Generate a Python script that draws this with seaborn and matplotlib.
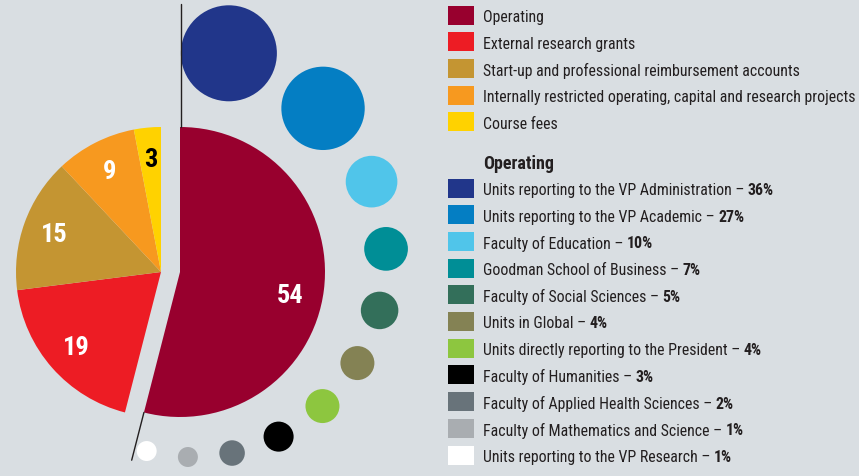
import numpy as np
import pandas as pd
import seaborn as sns
import matplotlib.pyplot as plt
from matplotlib.patches import Rectangle

# budget sources (outer pie)
sources = ['Operating', 'External research grants',
           'Start-up and professional reimbursement accounts',
           'Internally restricted operating, capital and research projects',
           'Course fees']
source_pct = [54, 19, 15, 9, 3]
source_colors = ['#98002e', '#ed1c24', '#c49532', '#f7991f', '#ffd200']

# breakdown of the operating slice (bubbles)
units = ['Units reporting to the VP Administration',
         'Units reporting to the VP Academic',
         'Faculty of Education',
         'Goodman School of Business',
         'Faculty of Social Sciences',
         'Units in Global',
         'Units directly reporting to the President',
         'Faculty of Humanities',
         'Faculty of Applied Health Sciences',
         'Faculty of Mathematics and Science',
         'Units reporting to the VP Research']
unit_pct = [36, 27, 10, 7, 5, 4, 4, 3, 2, 1, 1]
unit_colors = ['#21368a', '#047ec3', '#50c5ea', '#008e96', '#336f5a', '#848254',
               '#8dc63f', '#000000', '#68737a', '#a9adb1', '#ffffff']

bg = '#d9dee2'
ink = '#231f20'

sns.set_theme(style='white')
plt.rcParams['font.family'] = ['Roboto Condensed', 'Liberation Sans Narrow', 'Roboto', 'DejaVu Sans']

W, H = 859, 477
fig = plt.figure(figsize=(W / 100, H / 100), dpi=100, facecolor=bg)
ax = fig.add_axes([0, 0, 1, 1])
ax.set_facecolor(bg)

# pie: operating slice on its own, the rest nudged to the left
cx, cy = 180, H - 273
rad = 145
shift = 19
lab = lambda p: f'{p:.0f}'
tp = dict(color='white', fontsize=19, fontweight='bold')
w1, _, t1 = ax.pie(source_pct, colors=[source_colors[0]] + ['none'] * 4,
                   center=(cx, cy), radius=rad, startangle=90, counterclock=False,
                   autopct=lab, pctdistance=0.8, frame=True, textprops=tp,
                   wedgeprops=dict(linewidth=0))
w2, _, t2 = ax.pie(source_pct, colors=['none'] + source_colors[1:],
                   center=(cx - shift, cy), radius=rad, startangle=90, counterclock=False,
                   autopct=lab, pctdistance=0.78, frame=True, textprops=tp,
                   wedgeprops=dict(linewidth=0))
for t in t1[1:]:
    t.set_visible(False)
t2[0].set_visible(False)
t2[-1].set_color('black')
x54, y54 = t1[0].get_position()
t1[0].set_position((x54 - 5, y54 - 8))

# leader lines along the operating slice edges
a1 = np.deg2rad(90 - 360 * source_pct[0] / 100)
ax.plot([cx + 1, cx + 1], [cy + rad, cy + rad * 1.85], color=ink, lw=1)
ax.plot([cx + rad * np.cos(a1), cx + rad * 1.34 * np.cos(a1)],
        [cy + rad * np.sin(a1), cy + rad * 1.34 * np.sin(a1)], color=ink, lw=1)

# bubbles laid out on a spiral around the pie, constant gap between them
s_min, s_max = 207, 4778
vmin, vmax = min(unit_pct), max(unit_pct)
area = lambda v: s_min + (v - vmin) / (vmax - vmin) * (s_max - s_min)
radius_px = lambda v: np.sqrt(area(v)) / (2 * 0.72)
spiral = lambda th: 182 + (th + 101) * 0.236
gap = 22
xs, ys = [], []
th = 77.4
for i, v in enumerate(unit_pct):
    if i > 0:
        step = radius_px(unit_pct[i - 1]) + radius_px(v) + gap
        th -= np.rad2deg(step / spiral(th))
    R = spiral(th)
    xs.append(cx + R * np.cos(np.deg2rad(th)))
    ys.append(cy + R * np.sin(np.deg2rad(th)))

df = pd.DataFrame({'x': xs, 'y': ys, 'unit': units, 'pct': unit_pct})
sns.scatterplot(data=df, x='x', y='y', hue='unit', palette=dict(zip(units, unit_colors)),
                size='pct', sizes=(s_min, s_max), size_norm=(vmin, vmax),
                legend=False, linewidth=0, ax=ax)

ax.set_xlim(0, W)
ax.set_ylim(0, H)
ax.set_aspect('equal')
ax.set_axis_off()

# legends; font size chosen so the longest entry spans the same width as the original
renderer = fig.canvas.get_renderer()
probe = ax.text(483, 0, sources[3], fontsize=12)
fs = 12 * 374 / probe.get_window_extent(renderer).width
probe.remove()

row = 26.7
for i, (name, col) in enumerate(zip(sources, source_colors)):
    y = H - (16 + row * i)
    ax.add_patch(Rectangle((448, y - 9.5), 26, 19, color=col, lw=0))
    ax.text(483, y, name, fontsize=fs, color=ink, va='center_baseline')

ax.text(483, H - 162, 'Operating', fontsize=fs + 1.5, fontweight='bold', color=ink,
        va='center_baseline')

for i, (name, col, p) in enumerate(zip(units, unit_colors, unit_pct)):
    y = H - (189 + row * i)
    ax.add_patch(Rectangle((448, y - 9.5), 26, 19, color=col, lw=0))
    t = ax.text(483, y, name + ' \u2013 ', fontsize=fs, color=ink, va='center_baseline')
    bb = t.get_window_extent(renderer)
    ax.text(bb.x1, y, f'{p}%', fontsize=fs, fontweight='bold', color=ink,
            va='center_baseline')

fig.savefig('out.png', dpi=100, facecolor=bg)
